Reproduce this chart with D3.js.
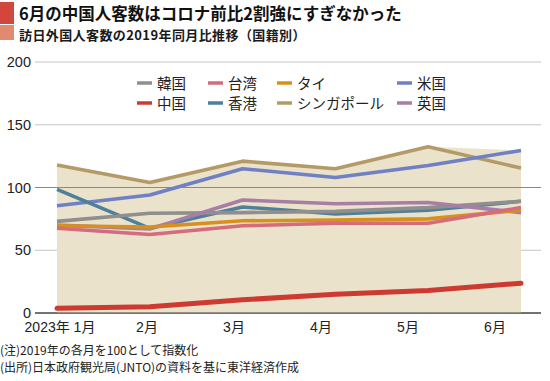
<!DOCTYPE html>
<html><head><meta charset="utf-8">
<script src="https://cdn.jsdelivr.net/npm/d3@7"></script>
<style>body{margin:0;background:#fff}svg{display:block}</style>
</head><body>
<svg id="c" width="550" height="381"></svg>
<script>
const months = ["2023年 1月","2月","3月","4月","5月","6月"];
const seriesNames = ["韓国","台湾","タイ","米国","中国","香港","シンガポール","英国"];
const korea = [73, 79.5, 80, 81, 84, 89];
const taiwan = [67.5, 62.5, 69.5, 71.5, 71.5, 84];
const thai = [69.5, 68.5, 73.5, 74, 75, 82];
const usa = [85.5, 94, 115, 108, 117.5, 129.5];
const china = [3.7, 5, 10.5, 15, 18, 23.7];
const hongkong = [98.5, 67.5, 84.5, 79, 82, 89];
const singapore = [118, 104, 121, 115, 132.5, 115.5];
const uk = [70, 67, 90, 87, 88, 80];
const colors = ["#8f8f8f","#d46c7e","#d8901c","#6f80c4","#cc3a32","#4e7f9b","#b49a66","#a67ea6"];
const yTicks = [0, 50, 100, 150, 200];

const values = [korea, taiwan, thai, usa, china, hongkong, singapore, uk];
const series = seriesNames.map((n,i)=>({name:n, color:colors[i], values:values[i]}));

const svg = d3.select("#c");
const x = d3.scalePoint().domain(months).range([57, 521]);
const xLab = d3.scalePoint().domain(months).range([60, 495]);
const y = d3.scaleLinear().domain([0, 200]).range([313, 62]);

// title block
svg.append("rect").attr("x",0).attr("y",2).attr("width",14).attr("height",22).attr("fill","#d2473c");
svg.append("rect").attr("x",0).attr("y",25).attr("width",14).attr("height",15).attr("fill","#e28a70");
svg.append("text").attr("x",19).attr("y",20).attr("font-family","'Noto Sans CJK JP'").attr("font-weight","bold")
  .attr("font-size",16.5).attr("fill","#111").text("6月の中国人客数はコロナ前比2割強にすぎなかった");
svg.append("text").attr("x",19).attr("y",39.5).attr("font-family","'Noto Sans CJK JP'").attr("font-weight","bold")
  .attr("font-size",13).attr("letter-spacing",0.4).attr("fill","#1a1a1a").text("訪日外国人客数の2019年同月比推移（国籍別）");

// gridlines
const g = svg.append("g");
g.selectAll("line.grid").data(yTicks).join("line")
  .attr("x1",35).attr("x2",541).attr("y1",d=>y(d)).attr("y2",d=>y(d))
  .attr("stroke",d=>d===0?"#444":(d===100?"#8a8a8a":"#c4c4c4")).attr("stroke-width",d=>d===0?1.2:1);
g.selectAll("text.yl").data(yTicks).join("text")
  .attr("x",31).attr("y",d=>y(d)+5).attr("text-anchor","end")
  .attr("font-family","'Liberation Sans', Arial, sans-serif").attr("font-size",14.5).attr("fill","#222").text(d=>d);

// area (max envelope)
const maxVals = months.map((m,i)=>d3.max(values, v=>v[i]));
const area = d3.area().x((d,i)=>x(months[i])).y0(y(0)).y1(d=>y(d));
svg.append("path").datum(maxVals).attr("d",area).attr("fill","#eae2ca");

svg.append("line").attr("x1",35).attr("x2",541).attr("y1",y(0)).attr("y2",y(0)).attr("stroke","#444").attr("stroke-width",1.2);
svg.append("line").attr("x1",35).attr("x2",541).attr("y1",y(100)).attr("y2",y(100)).attr("stroke","#8a8a8a").attr("stroke-width",1);

// lines
const line = d3.line().x((d,i)=>x(months[i])).y(d=>y(d));
const order = [6,3,5,0,7,2,1,4];
svg.selectAll("path.s").data(order.map(i=>series[i])).join("path")
  .attr("d",d=>line(d.values)).attr("fill","none").attr("stroke",d=>d.color)
  .attr("stroke-width",d=>d.name==="中国"?5:3.6).attr("stroke-linejoin","round").attr("stroke-linecap",d=>d.name==="中国"?"round":"butt");

// x labels
svg.selectAll("text.xl").data(months).join("text")
  .attr("x",d=>xLab(d)).attr("y",332).attr("text-anchor","middle")
  .attr("font-family","'Liberation Sans', 'Noto Sans CJK JP', sans-serif").attr("font-size",14).attr("fill","#222").text(d=>d);

// legend
const legX = [137, 208, 277, 397];
const leg = svg.selectAll("g.leg").data(series).join("g")
  .attr("transform",(d,i)=>`translate(${legX[i%4]},${i<4?83:103})`);
leg.append("line").attr("x1",0).attr("x2",15).attr("y1",0).attr("y2",0).attr("stroke",d=>d.color).attr("stroke-width",3.5);
leg.append("text").attr("x",20).attr("y",5.5).attr("font-family","'Noto Sans CJK JP'").attr("font-size",14.5).attr("fill","#222").text(d=>d.name);

// notes
svg.append("text").attr("x",0).attr("y",355).attr("font-family","'Noto Sans CJK JP'").attr("font-size",12).attr("fill","#222")
  .text("(注)2019年の各月を100として指数化");
svg.append("text").attr("x",0).attr("y",372).attr("font-family","'Noto Sans CJK JP'").attr("font-size",12).attr("fill","#222")
  .text("(出所)日本政府観光局(JNTO)の資料を基に東洋経済作成");
</script>
</body></html>
